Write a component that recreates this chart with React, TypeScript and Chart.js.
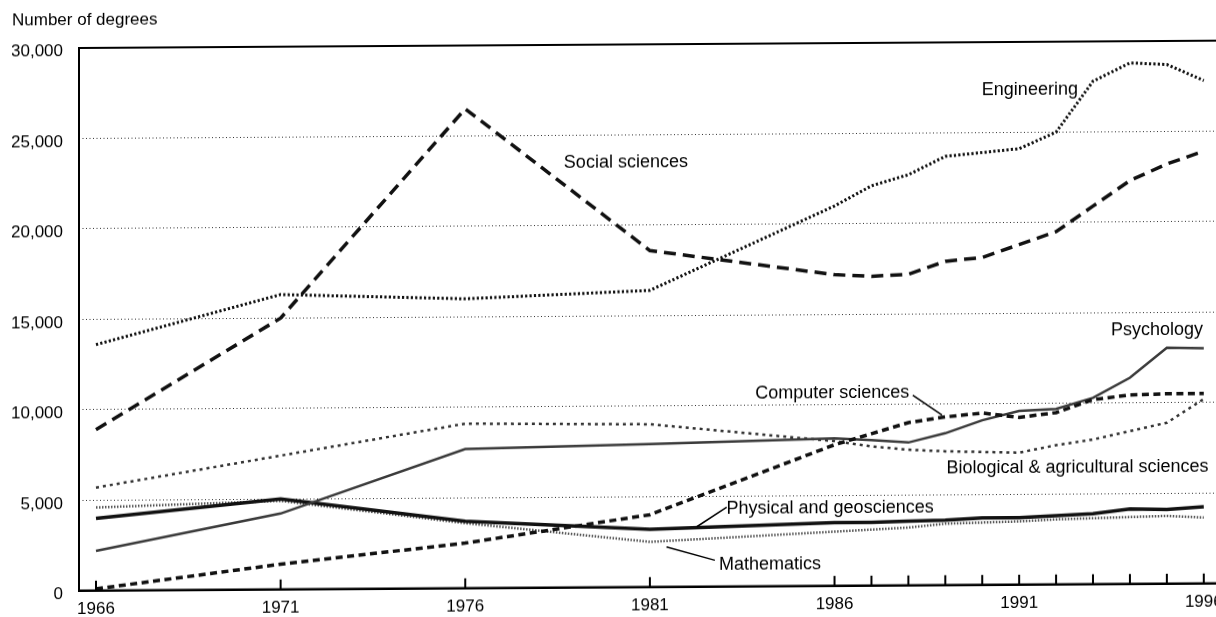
import React, { useEffect, useRef } from "react";
import { Chart, registerables } from "chart.js";

Chart.register(...registerables);

// ---- data ----
const years = [1966, 1971, 1976, 1981, 1986, 1987, 1988, 1989, 1990, 1991, 1992, 1993, 1994, 1995, 1996];
const engineering = [13600, 16300, 16000, 16400, 21000, 22100, 22700, 23700, 23900, 24100, 25000, 27800, 28800, 28700, 27800];
const socialSciences = [8900, 15000, 26500, 18600, 17200, 17100, 17200, 17900, 18100, 18800, 19500, 20900, 22300, 23200, 23900];
const computerSciences = [100, 1400, 2500, 4000, 7800, 8400, 9000, 9300, 9500, 9250, 9500, 10200, 10450, 10500, 10500];
const psychology = [2200, 4200, 7700, 7900, 8150, 8050, 7900, 8400, 9100, 9600, 9700, 10300, 11400, 13050, 13000];
const biological = [5700, 7400, 9100, 9000, 8000, 7700, 7500, 7400, 7350, 7300, 7700, 8000, 8450, 8900, 10200];
const physical = [4000, 5000, 3700, 3200, 3500, 3500, 3550, 3600, 3700, 3700, 3800, 3900, 4150, 4100, 4250];
const mathematics = [4600, 4900, 3600, 2500, 3000, 3100, 3200, 3400, 3450, 3500, 3600, 3650, 3700, 3750, 3650];

const tickYears = [1966, 1971, 1976, 1981, 1986, 1987, 1988, 1989, 1990, 1991, 1992, 1993, 1994, 1995, 1996];
const labeledYears = [1966, 1971, 1976, 1981, 1986, 1991, 1996];
const yTicks = [0, 5000, 10000, 15000, 20000, 25000, 30000];

// label annotations, anchored in data space (year, degrees)
const noteTexts = [
  "Engineering",
  "Social sciences",
  "Psychology",
  "Computer sciences",
  "Biological & agricultural sciences",
  "Physical and geosciences",
  "Mathematics",
];
const noteYears = [1991.29, 1980.35, 1994.73, 1985.94, 1992.58, 1985.88, 1984.25];
const noteValues = [27360, 23460, 14010, 10670, 6430, 4290, 1210];

// leader lines: [yearStart, valueStart, yearEnd, valueEnd]
const leaderComputer = [1988.12, 10507, 1988.91, 9401];
const leaderPhysical = [1983.08, 4392, 1982.27, 3319];
const leaderMath = [1982.76, 1459, 1981.45, 2213];

const FONT = '"Liberation Sans", Arial, Helvetica, sans-serif';

const seriesDefs = [
  { label: "Engineering", values: engineering, color: "#111", width: 3, dash: [2.2, 2.2] },
  { label: "Social sciences", values: socialSciences, color: "#111", width: 3.5, dash: [12, 7] },
  { label: "Computer sciences", values: computerSciences, color: "#111", width: 3.5, dash: [7, 4.5] },
  { label: "Psychology", values: psychology, color: "#3a3a3a", width: 2.5, dash: [] as number[] },
  { label: "Biological & agricultural sciences", values: biological, color: "#333", width: 2.5, dash: [3, 4] },
  { label: "Physical and geosciences", values: physical, color: "#111", width: 3.5, dash: [] as number[] },
  { label: "Mathematics", values: mathematics, color: "#555", width: 2.5, dash: [1.5, 1.5] },
];

const framePlugin = {
  id: "frameAndNotes",
  afterDatasetsDraw(chart: any) {
    const { ctx, chartArea: a, scales } = chart;
    const xs = scales.x;
    const ys = scales.y;
    ctx.save();
    ctx.strokeStyle = "#000";
    ctx.setLineDash([]);
    // top border
    ctx.lineWidth = 2;
    ctx.beginPath();
    ctx.moveTo(a.left - 1, a.top);
    ctx.lineTo(a.right, a.top);
    ctx.stroke();
    // left axis
    ctx.beginPath();
    ctx.moveTo(a.left, a.top - 1);
    ctx.lineTo(a.left, a.bottom + 1);
    ctx.stroke();
    // bottom axis
    ctx.lineWidth = 2.5;
    ctx.beginPath();
    ctx.moveTo(a.left - 1, a.bottom);
    ctx.lineTo(a.right, a.bottom);
    ctx.stroke();
    // inward tick marks
    ctx.lineWidth = 2;
    tickYears.forEach((yr) => {
      const px = xs.getPixelForValue(yr);
      ctx.beginPath();
      ctx.moveTo(px, a.bottom);
      ctx.lineTo(px, a.bottom - 10);
      ctx.stroke();
    });
    // notes
    ctx.fillStyle = "#000";
    ctx.font = `18px ${FONT}`;
    ctx.textAlign = "center";
    ctx.textBaseline = "middle";
    noteTexts.forEach((t, i) => {
      ctx.fillText(t, xs.getPixelForValue(noteYears[i]), ys.getPixelForValue(noteValues[i]));
    });
    // leader lines
    ctx.lineWidth = 1.5;
    [leaderComputer, leaderPhysical, leaderMath].forEach((l) => {
      ctx.beginPath();
      ctx.moveTo(xs.getPixelForValue(l[0]), ys.getPixelForValue(l[1]));
      ctx.lineTo(xs.getPixelForValue(l[2]), ys.getPixelForValue(l[3]));
      ctx.stroke();
    });
    ctx.restore();
  },
};

export default function App() {
  const ref = useRef<HTMLCanvasElement>(null);

  useEffect(() => {
    if (!ref.current) return;
    const datasets = seriesDefs.map((s) => ({
      label: s.label,
      data: years.map((yr, i) => ({ x: yr, y: s.values[i] })),
      borderColor: s.color,
      backgroundColor: s.color,
      borderWidth: s.width,
      borderDash: s.dash,
      pointRadius: 0,
      tension: 0,
      fill: false,
    }));

    const chart = new Chart(ref.current, {
      type: "line",
      data: { datasets },
      plugins: [framePlugin],
      options: {
        responsive: false,
        animation: false,
        devicePixelRatio: 1,
        layout: { padding: { left: 12, top: 0, right: 0, bottom: 0 } },
        plugins: {
          legend: { display: false },
          tooltip: { enabled: false },
          title: {
            display: true,
            text: "Number of degrees",
            align: "start",
            color: "#000",
            font: { family: FONT, size: 17, weight: "normal" },
            padding: { top: 10.5, bottom: 17.1 },
          },
        },
        scales: {
          x: {
            type: "linear",
            min: 1965.54,
            max: 1996.98,
            afterBuildTicks: (s: any) => {
              s.ticks = tickYears.map((v) => ({ value: v }));
            },
            afterFit: (s: any) => {
              s.height = 24;
            },
            grid: { display: false, drawTicks: false },
            border: { display: false },
            ticks: {
              autoSkip: false,
              maxRotation: 0,
              padding: 8.5,
              color: "#000",
              font: { family: FONT, size: 17 },
              callback: (v: any) => (labeledYears.includes(Number(v)) ? String(v) : ""),
            },
          },
          y: {
            type: "linear",
            min: 0,
            max: 30000,
            afterBuildTicks: (s: any) => {
              s.ticks = yTicks.map((v) => ({ value: v }));
            },
            afterFit: (s: any) => {
              s.width = 67;
            },
            grid: {
              drawTicks: false,
              lineWidth: 1,
              color: (c: any) =>
                c.tick && (c.tick.value === 0 || c.tick.value === 30000) ? "rgba(0,0,0,0)" : "#333",
            },
            border: { display: false, dash: [1, 2.5] },
            ticks: {
              padding: 16,
              labelOffset: 3.5,
              color: "#000",
              font: { family: FONT, size: 17 },
              callback: (v: any) => Number(v).toLocaleString("en-US"),
            },
          },
        },
      } as any,
    });
    return () => chart.destroy();
  }, []);

  return (
    <div
      style={{
        position: "fixed",
        left: 0,
        top: 0,
        width: 1216,
        height: 617,
        overflow: "hidden",
        background: "#fff",
      }}
    >
      <div
        style={{
          width: 1240,
          height: 617,
          transform: "skewY(-0.37deg)",
          transformOrigin: "79px 593px",
        }}
      >
        <canvas ref={ref} width={1240} height={617} style={{ display: "block", width: 1240, height: 617 }} />
      </div>
    </div>
  );
}
